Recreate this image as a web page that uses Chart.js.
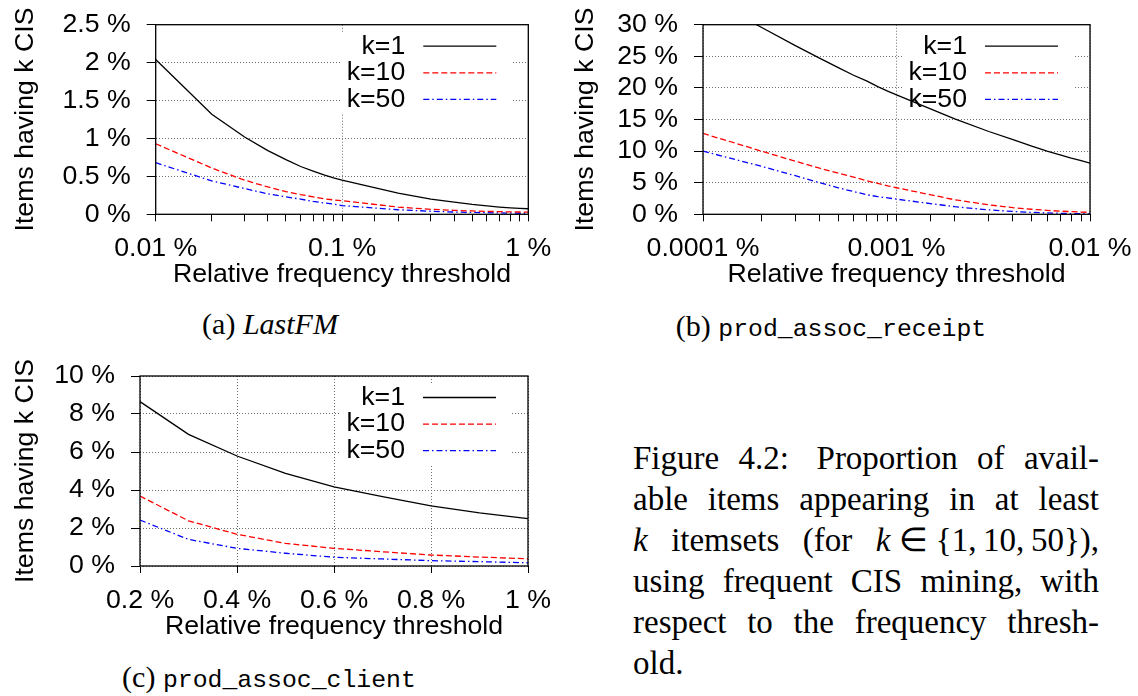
<!DOCTYPE html>
<html>
<head>
<meta charset="utf-8">
<script src="https://cdn.jsdelivr.net/npm/chart.js@4.4.1/dist/chart.umd.min.js"></script>
<style>
    body { margin: 0; background: #fff; width: 1138px; height: 696px; position: relative; overflow: hidden; }
    canvas { position: absolute; }
    .cap { position: absolute; font-family: "Liberation Serif", serif; font-size: 30px; line-height: 38px; color: #000; white-space: nowrap; text-align: center; }
    .tt { font-family: "Liberation Mono", monospace; font-size: 24.8px; }
    #fig { position: absolute; left: 633px; top: 438px; width: 466px; font-family: "Liberation Serif", serif; font-size: 33px; line-height: 41px; color: #000; }
    #fig div { text-align: justify; text-align-last: justify; white-space: nowrap; }
    #fig div.last { text-align-last: left; }
    .nb { display: inline-block; }
</style>
</head>
<body>
<canvas id="chart-a" width="560" height="300" style="left:0;top:0"></canvas>
<canvas id="chart-b" width="578" height="300" style="left:560px;top:0"></canvas>
<canvas id="chart-c" width="560" height="300" style="left:0;top:352px"></canvas>

<div class="cap" style="left:100px;top:305px;width:340px">(a) <i>LastFM</i></div>
<div class="cap" style="left:631px;top:307px;width:400px">(b) <span class="tt">prod_assoc_receipt</span></div>
<div class="cap" style="left:99px;top:658px;width:340px">(c) <span class="tt">prod_assoc_client</span></div>

<div id="fig">
    <div>Figure 4.2: <span class="nb">&nbsp;Proportion</span> of avail-</div>
    <div>able items appearing in at least</div>
    <div><i>k</i> itemsets (for <span class="nb"><i>k</i>&nbsp;∈&nbsp;{1,&#8201;10,&#8201;50}),</span></div>
    <div>using frequent CIS mining, with</div>
    <div>respect to the frequency thresh-</div>
    <div class="last">old.</div>
</div>

<script>
// (a) LastFM - thresholds in %
const lastfmX = [0.01, 0.02, 0.03, 0.04, 0.05, 0.06, 0.07, 0.08, 0.09, 0.1, 0.2, 0.3, 0.4, 0.5, 0.6, 0.7, 0.8, 0.9, 1];
const lastfmK1 = [2.04, 1.32, 1.02, 0.84, 0.72, 0.63, 0.57, 0.52, 0.48, 0.45, 0.28, 0.20, 0.16, 0.13, 0.11, 0.095, 0.085, 0.078, 0.073];
const lastfmK10 = [0.93, 0.61, 0.45, 0.36, 0.30, 0.26, 0.23, 0.205, 0.19, 0.18, 0.095, 0.066, 0.052, 0.044, 0.039, 0.035, 0.032, 0.030, 0.028];
const lastfmK50 = [0.68, 0.44, 0.34, 0.27, 0.23, 0.20, 0.17, 0.15, 0.135, 0.115, 0.06, 0.04, 0.03, 0.025, 0.021, 0.018, 0.016, 0.014, 0.013];

// (b) prod_assoc_receipt
const receiptX = [0.0001, 0.0002, 0.0003, 0.0004, 0.0005, 0.0006, 0.0007, 0.0008, 0.0009, 0.001, 0.002, 0.003, 0.004, 0.005, 0.006, 0.007, 0.008, 0.009, 0.01];
const receiptK1 = [34.5, 29.6, 26.7, 24.7, 23.2, 22.0, 21.1, 20.2, 19.5, 18.9, 15.1, 13.1, 11.8, 10.8, 10.0, 9.4, 8.9, 8.5, 8.1];
const receiptK10 = [12.8, 10.0, 8.4, 7.3, 6.5, 5.9, 5.3, 4.9, 4.5, 4.2, 2.3, 1.5, 1.05, 0.8, 0.62, 0.5, 0.42, 0.36, 0.3];
const receiptK50 = [10.0, 7.6, 6.1, 5.0, 4.2, 3.6, 3.1, 2.8, 2.6, 2.4, 1.2, 0.7, 0.45, 0.3, 0.22, 0.16, 0.12, 0.09, 0.07];

// (c) prod_assoc_client
const clientX = [0.2, 0.3, 0.4, 0.5, 0.6, 0.7, 0.8, 0.9, 1.0];
const clientK1 = [8.65, 6.93, 5.79, 4.88, 4.17, 3.65, 3.17, 2.8, 2.49];
const clientK10 = [3.68, 2.38, 1.67, 1.19, 0.93, 0.75, 0.58, 0.47, 0.38];
const clientK50 = [2.42, 1.40, 0.93, 0.67, 0.46, 0.37, 0.28, 0.23, 0.17];

const seriesLabels = ['k=1', 'k=10', 'k=50'];

const FONT = { family: '"Liberation Sans", Arial, Helvetica, sans-serif', size: 26.7, lineHeight: 1 };
const TITLE_FONT = { family: FONT.family, size: 26.7, lineHeight: 1.2 };
const GRID = '#6e6e6e';

const isDecade = v => Math.abs(Math.log10(v) - Math.round(Math.log10(v))) < 1e-6;
const fmt = v => Number(v.toPrecision(6)).toString() + ' %';

// gnuplot style key + frame
const gnuKey = {
    id: 'gnuKey',
    beforeDatasetsDraw(chart) {
        const { ctx, chartArea: a } = chart;
        const r = a.right;
        const y0 = a.top + 21.5, dy = 26.6;
        ctx.save();
        ctx.fillStyle = '#fff';
        ctx.fillRect(r - 188, y0 - 14, 172, dy * 2 + 28);
        ctx.font = FONT.size + 'px ' + FONT.family;
        ctx.textAlign = 'right';
        ctx.textBaseline = 'middle';
        chart.data.datasets.forEach((ds, i) => {
            const y = y0 + i * dy;
            ctx.fillStyle = '#000';
            ctx.fillText(ds.label, r - 123, y);
            ctx.strokeStyle = ds.borderColor;
            ctx.lineWidth = ds.borderWidth;
            ctx.setLineDash(ds.borderDash || []);
            ctx.beginPath();
            ctx.moveTo(r - 105, y);
            ctx.lineTo(r - 32, y);
            ctx.stroke();
        });
        ctx.restore();
    },
    afterDatasetsDraw(chart) {
        const { ctx, chartArea: a } = chart;
        ctx.save();
        ctx.strokeStyle = '#000';
        ctx.lineWidth = 1.3;
        ctx.strokeRect(a.left, a.top, a.right - a.left, a.bottom - a.top);
        ctx.restore();
    }
};

function series(xs, ys, i) {
    const styles = [
        { borderColor: '#000000', borderDash: [] },
        { borderColor: '#ff0000', borderDash: [6, 3] },
        { borderColor: '#0000ff', borderDash: [6, 3, 1.5, 3] }
    ];
    return {
        label: seriesLabels[i],
        data: xs.map((x, j) => ({ x: x, y: ys[j] })),
        borderColor: styles[i].borderColor,
        borderDash: styles[i].borderDash,
        borderWidth: 1.3,
        pointRadius: 0,
        tension: 0,
        fill: false
    };
}

function makeChart(id, cfg) {
    const canvas = document.getElementById(id);
    const W = canvas.width, H = canvas.height;

    const xScale = {
        type: cfg.xType,
        min: cfg.xMin,
        max: cfg.xMax,
        // fixed box, and no label overhang pushing the plot area around
        afterFit: s => {
            s.height = H - cfg.bottom;
            s.paddingLeft = 0;
            s.paddingRight = 0;
        },
        ticks: {
            autoSkip: false,
            maxRotation: 0,
            padding: 14,
            color: '#000',
            font: FONT,
            callback: cfg.xType === 'logarithmic'
                ? (v => isDecade(v) ? fmt(v) : '')
                : (v => fmt(v))
        },
        grid: {
            color: c => {
                const v = c.tick ? c.tick.value : 0;
                if (cfg.xType === 'logarithmic') return isDecade(v) ? GRID : 'rgba(0,0,0,0)';
                return GRID;
            },
            tickColor: '#000',
            tickLength: 7,
            lineWidth: 1
        },
        border: { display: false, dash: [1, 2] },
        title: { display: true, text: 'Relative frequency threshold', color: '#000', font: TITLE_FONT, padding: { top: 0, bottom: 9 } }
    };
    if (cfg.xStep) xScale.ticks.stepSize = cfg.xStep;

    const yScale = {
        type: 'linear',
        min: 0,
        max: cfg.yMax,
        afterFit: s => {
            s.width = cfg.left;
            s.paddingTop = 0;
            s.paddingBottom = 0;
        },
        ticks: { stepSize: cfg.yStep, autoSkip: false, padding: 16, color: '#000', font: FONT, callback: v => fmt(v) },
        grid: { color: GRID, tickColor: '#000', tickLength: 9, lineWidth: 1 },
        border: { display: false, dash: [1, 2] },
        title: { display: true, text: 'Items having k CIS', color: '#000', font: TITLE_FONT, padding: { top: 9.4, bottom: 0 } }
    };

    return new Chart(canvas, {
        type: 'line',
        data: { datasets: cfg.datasets },
        options: {
            responsive: false,
            animation: false,
            layout: { padding: { top: cfg.top, right: W - cfg.right, bottom: 0, left: 0 } },
            plugins: { legend: { display: false }, tooltip: { enabled: false } },
            scales: { x: xScale, y: yScale }
        },
        plugins: [gnuKey]
    });
}

makeChart('chart-a', {
    xType: 'logarithmic', xMin: 0.01, xMax: 1, yMax: 2.5, yStep: 0.5,
    left: 155.7, right: 528.3, top: 24.7, bottom: 214.3,
    datasets: [series(lastfmX, lastfmK1, 0), series(lastfmX, lastfmK10, 1), series(lastfmX, lastfmK50, 2)]
});

makeChart('chart-b', {
    xType: 'logarithmic', xMin: 0.0001, xMax: 0.01, yMax: 30, yStep: 5,
    left: 143, right: 530, top: 24.7, bottom: 214.3,
    datasets: [series(receiptX, receiptK1, 0), series(receiptX, receiptK10, 1), series(receiptX, receiptK50, 2)]
});

makeChart('chart-c', {
    xType: 'linear', xMin: 0.2, xMax: 1, xStep: 0.2, yMax: 10, yStep: 2,
    left: 140, right: 528, top: 24, bottom: 214,
    datasets: [series(clientX, clientK1, 0), series(clientX, clientK10, 1), series(clientX, clientK50, 2)]
});
</script>
</body>
</html>
